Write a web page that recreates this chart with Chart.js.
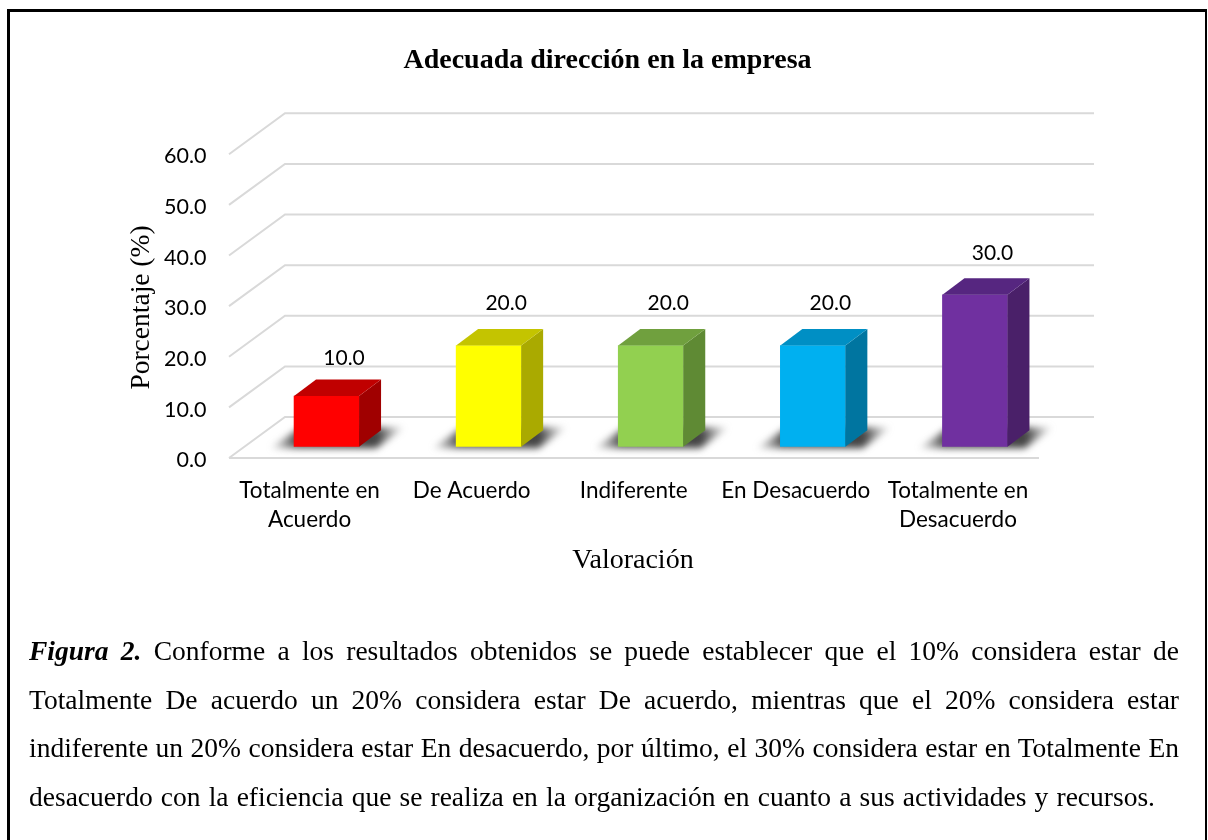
<!DOCTYPE html>
<html lang="es">
<head>
<meta charset="utf-8">
<title>Adecuada dirección en la empresa</title>
<script src="https://cdn.jsdelivr.net/npm/chart.js@4"></script>
<style>
  html,body{margin:0;padding:0;background:#fff;width:1208px;height:840px;overflow:hidden}
  #chart{position:absolute;left:0;top:0}
  #frame{position:absolute;left:7px;top:9px;width:1200px;height:840px;border:3px solid #000;border-right-width:2px;box-sizing:border-box;pointer-events:none}
  #caption{position:absolute;left:29px;width:1150px;top:627px;font:27.5px/48.5px "Liberation Serif",serif;color:#000}
  #caption div{text-align:justify;text-align-last:justify;white-space:nowrap}
  #caption div.last{width:1126px}
  #caption b{font-style:italic}
</style>
</head>
<body>
<canvas id="chart" width="1208" height="840"></canvas>
<div id="frame"></div>
<div id="caption">
  <div><b>Figura 2.</b> Conforme a los resultados obtenidos se puede establecer que el 10% considera estar de</div>
  <div>Totalmente De acuerdo un 20% considera estar De acuerdo, mientras que el 20% considera estar</div>
  <div>indiferente un 20% considera estar En desacuerdo, por último, el 30% considera estar en Totalmente En</div>
  <div class="last">desacuerdo con la eficiencia que se realiza en la organización en cuanto a sus actividades y recursos.</div>
</div>
<script>
const chartTitle = "Adecuada dirección en la empresa";
const xTitle = "Valoración";
const yTitle = "Porcentaje (%)";
const categories = [["Totalmente en","Acuerdo"],"De Acuerdo","Indiferente","En Desacuerdo",["Totalmente en","Desacuerdo"]];
const values = [10,20,20,20,30];
const frontColors = ["#ff0000","#ffff00","#92d050","#00b0f0","#7030a0"];
const sideColors  = ["#a00000","#aaaa00","#5f8a34","#0075a0","#4a2069"];
const topColors   = ["#c00000","#c4c400","#70a03e","#008fc4","#562680"];
const LABEL_FONT = "Lato, Carlito, sans-serif";
const SERIF = '"Liberation Serif", serif';

const DEPTH_X = 22, DEPTH_Y = 16.5;

const scene3d = {
  id:"scene3d",
  beforeDatasetsDraw(chart){
    const {ctx, scales:{x,y}} = chart;
    ctx.save();
    ctx.strokeStyle = "#d9d9d9"; ctx.lineWidth = 2;
    for(const t of y.ticks){
      const p = y.getPixelForValue(t.value);
      ctx.beginPath();
      ctx.moveTo(x.left-16.5, p+11.3);
      ctx.lineTo(x.left+39.5, p-29.7);
      ctx.lineTo(x.right+38, p-29.7);
      ctx.stroke();
    }
    const p0 = y.getPixelForValue(0);
    ctx.beginPath(); ctx.moveTo(x.left-16.5,p0+11.3); ctx.lineTo(x.right-17,p0+11.3); ctx.stroke();
    // floor shadows
    const meta = chart.getDatasetMeta(0);
    meta.data.forEach(b=>{
      const l=b.x-b.width/2, r=b.x+b.width/2, base=b.base;
      ctx.save();
      ctx.filter="blur(3.5px)";
      const g=ctx.createLinearGradient(l-26,0,r+46,0);
      g.addColorStop(0,"rgba(110,110,110,0)");g.addColorStop(.2,"#555");g.addColorStop(.8,"#444");g.addColorStop(1,"rgba(110,110,110,0)");
      ctx.fillStyle=g;
      ctx.beginPath();
      ctx.moveTo(l-24,base+1.5);ctx.lineTo(l+6,base-19);ctx.lineTo(r+46,base-19.5);ctx.lineTo(r+17,base+1.5);ctx.closePath();
      ctx.fill();
      ctx.restore();
    });
    ctx.restore();
  },
  afterDatasetsDraw(chart){
    const {ctx} = chart;
    const meta = chart.getDatasetMeta(0);
    ctx.save();
    meta.data.forEach((b,i)=>{
      const l=b.x-b.width/2, r=b.x+b.width/2, t=b.y, base=b.base;
      ctx.fillStyle=sideColors[i];
      ctx.beginPath();ctx.moveTo(r,t);ctx.lineTo(r+DEPTH_X,t-DEPTH_Y);ctx.lineTo(r+DEPTH_X,base-DEPTH_Y);ctx.lineTo(r,base);ctx.closePath();ctx.fill();
      ctx.fillStyle=topColors[i];
      ctx.beginPath();ctx.moveTo(l,t);ctx.lineTo(l+DEPTH_X,t-DEPTH_Y);ctx.lineTo(r+DEPTH_X,t-DEPTH_Y);ctx.lineTo(r,t);ctx.closePath();ctx.fill();
      ctx.fillStyle="#000";ctx.font="21px "+LABEL_FONT;ctx.textAlign="center";ctx.textBaseline="middle";
      ctx.fillText(values[i].toFixed(1), b.x+17.5, t-(i===0?38:42));
    });
    // axis titles
    ctx.font="28px "+SERIF;ctx.fillStyle="#000";ctx.textAlign="center";ctx.textBaseline="middle";
    ctx.fillText(xTitle,633,560.5);
    ctx.save();ctx.translate(142,307.5);ctx.rotate(-Math.PI/2);ctx.font="27.5px "+SERIF;ctx.fillText(yTitle,0,0);ctx.restore();
    ctx.restore();
  }
};

new Chart(document.getElementById("chart"),{
  type:"bar",
  data:{labels:categories,datasets:[{data:values,backgroundColor:frontColors,barThickness:65,borderWidth:0}]},
  plugins:[scene3d],
  options:{
    responsive:false,animation:false,
    layout:{padding:{left:159,right:152,top:0,bottom:300}},
    plugins:{
      legend:{display:false},tooltip:{enabled:false},
      title:{display:true,text:chartTitle,color:"#000",font:{family:SERIF,size:28,weight:"bold",lineHeight:1.2},padding:{top:44,bottom:65.4}}
    },
    scales:{
      x:{
        grid:{display:false},border:{display:false},
        afterFit(s){s.height=93.3;},
        ticks:{color:"#000",font:{family:LABEL_FONT,size:22.5,lineHeight:1.3},padding:21,labelOffset:-17,maxRotation:0,minRotation:0,autoSkip:false}
      },
      y:{
        min:0,max:60,
        grid:{display:false,drawTicks:false},border:{display:false},
        afterFit(s){s.width=86.5;},
        ticks:{stepSize:10,color:"#000",font:{family:LABEL_FONT,size:21.5},padding:39,labelOffset:13.5,callback:v=>Number(v).toFixed(1)}
      }
    }
  }
});
</script>
</body>
</html>
